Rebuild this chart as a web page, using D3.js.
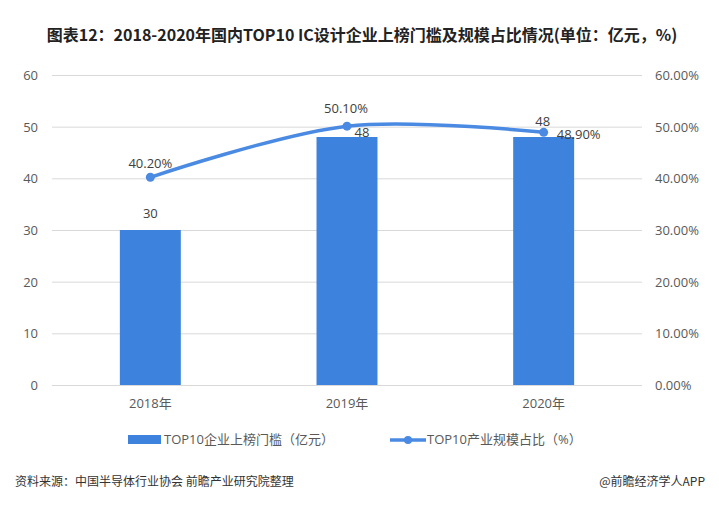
<!DOCTYPE html>
<html><head><meta charset="utf-8">
<script src="https://cdn.jsdelivr.net/npm/d3@7"></script>
<style>body{margin:0;background:#fff}svg{display:block}</style>
</head><body>
<svg id="c" width="719" height="514"></svg>
<script>
const categories = ["2018年","2019年","2020年"];
const thresholdValues = [30,48,48];
const shareValues = [40.2,50.1,48.9];
const leftTicks = [0,10,20,30,40,50,60];
const rightTicks = [0,10,20,30,40,50,60];
const titleText = "图表12：2018-2020年国内TOP10 IC设计企业上榜门槛及规模占比情况(单位：亿元，%)";
const barName = "TOP10企业上榜门槛（亿元）";
const lineName = "TOP10产业规模占比（%）";
const sourceText = "资料来源：中国半导体行业协会 前瞻产业研究院整理";
const brandText = "@前瞻经济学人APP";

const svg = d3.select("#c");
const m={l:52,r:642,t:75,b:385};
const tickFont="'Open Sans','Noto Sans CJK SC',sans-serif";
const x=d3.scaleBand().domain(categories).range([m.l,m.r]).paddingInner(0.69).paddingOuter(0.345);
const y=d3.scaleLinear().domain([0,60]).range([m.b,m.t]);
const y2=d3.scaleLinear().domain([0,60]).range([m.b,m.t]);
const cx=d=>x(d)+x.bandwidth()/2;

// title
svg.append("text").attr("x",362).attr("y",41).attr("text-anchor","middle")
  .attr("font-family","'Liberation Sans Narrow','Noto Sans CJK SC',sans-serif").attr("font-weight","bold")
  .attr("font-size",16).attr("fill","#222").text(titleText);

// grid
svg.append("g").selectAll("line").data(leftTicks).join("line")
  .attr("x1",m.l).attr("x2",m.r).attr("y1",d=>y(d)+0.5).attr("y2",d=>y(d)+0.5)
  .attr("stroke","#d9d9d9").attr("stroke-width",1);

// left axis
const la=svg.append("g").attr("transform",`translate(${m.l-14},0)`)
  .call(d3.axisLeft(y).tickValues(leftTicks).tickSize(0).tickPadding(0));
la.select(".domain").remove();
la.selectAll("text").attr("font-family",tickFont).attr("font-size",13).attr("fill","#595959").attr("dy","0.35em");
// right axis
const ra=svg.append("g").attr("transform",`translate(${m.r+13},0)`)
  .call(d3.axisRight(y2).tickValues(rightTicks).tickSize(0).tickPadding(0).tickFormat(d=>d.toFixed(2)+"%"));
ra.select(".domain").remove();
ra.selectAll("text").attr("font-family",tickFont).attr("font-size",13).attr("fill","#595959").attr("dy","0.35em");
// x axis
const xa=svg.append("g").attr("transform",`translate(0,${m.b})`)
  .call(d3.axisBottom(x).tickSize(0).tickPadding(14));
xa.select(".domain").remove();
xa.selectAll("text").attr("font-family",tickFont).attr("font-size",13).attr("fill","#595959");

const barColor="#3d82dc", lineColor="#4a8ae2";
// bars
svg.append("g").selectAll("rect").data(categories).join("rect")
  .attr("x",d=>x(d)).attr("width",x.bandwidth())
  .attr("y",(d,i)=>y(thresholdValues[i])).attr("height",(d,i)=>y(0)-y(thresholdValues[i]))
  .attr("fill",barColor);

// line
const pts=categories.map((c,i)=>[cx(c),y2(shareValues[i])]);
svg.append("path").attr("d",d3.line().curve(d3.curveCatmullRom.alpha(0.5))(pts))
  .attr("fill","none").attr("stroke",lineColor).attr("stroke-width",3.5).attr("stroke-linecap","round");
svg.append("g").selectAll("circle").data(pts).join("circle")
  .attr("cx",d=>d[0]).attr("cy",d=>d[1]).attr("r",4.5).attr("fill",lineColor);

// data labels
const lab=svg.append("g").attr("font-family",tickFont).attr("font-size",13).attr("fill","#404040");
const barLabelOffsets=[[0,-12],[15,0],[-1,-11]];
categories.forEach((c,i)=>{
  lab.append("text").attr("x",cx(c)+barLabelOffsets[i][0]).attr("y",y(thresholdValues[i])+barLabelOffsets[i][1])
    .attr("text-anchor","middle").text(thresholdValues[i]);
});
const lineLabelOffsets=[[0,-9],[-1,-13],[35,7]];
categories.forEach((c,i)=>{
  lab.append("text").attr("x",cx(c)+lineLabelOffsets[i][0]).attr("y",y2(shareValues[i])+lineLabelOffsets[i][1])
    .attr("text-anchor","middle").text(shareValues[i].toFixed(2)+"%");
});

// legend
const lg=svg.append("g").attr("font-family",tickFont).attr("font-size",13).attr("fill","#595959");
lg.append("rect").attr("x",128).attr("y",435).attr("width",33).attr("height",9).attr("fill",barColor);
lg.append("text").attr("x",164).attr("y",444).text(barName);
lg.append("line").attr("x1",390).attr("x2",426).attr("y1",440).attr("y2",440).attr("stroke",lineColor).attr("stroke-width",3.5);
lg.append("circle").attr("cx",408).attr("cy",440).attr("r",4).attr("fill",lineColor);
lg.append("text").attr("x",427).attr("y",444).text(lineName);

// footer
svg.append("text").attr("x",15).attr("y",486).attr("font-family","'Noto Sans CJK SC',sans-serif")
  .attr("font-size",12).attr("fill","#333").text(sourceText);
svg.append("text").attr("x",705).attr("y",486).attr("text-anchor","end").attr("font-family","'Noto Sans CJK SC',sans-serif")
  .attr("font-size",12).attr("fill","#333").text(brandText);
</script>
</body></html>
